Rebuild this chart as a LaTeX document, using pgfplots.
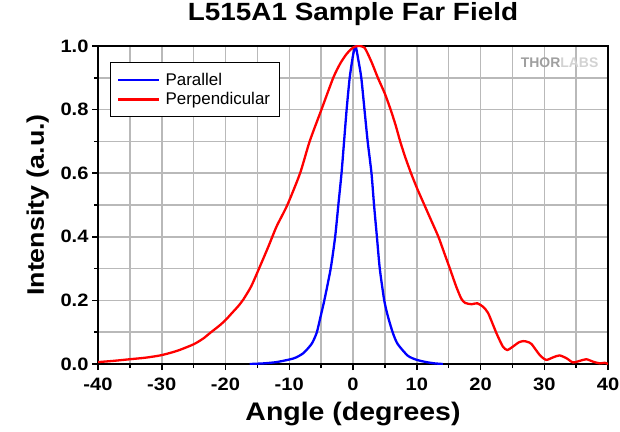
\documentclass[border=0pt]{standalone}
\usepackage{pgfplots}
\pgfplotsset{compat=1.18}
\usepackage{fontspec}
\setmainfont[FakeStretch=1.12]{Liberation Sans}
\newfontfamily\plainfont{Liberation Sans}

\definecolor{gridgray}{RGB}{185,185,185}

\begin{document}
\begin{tikzpicture}[x=1bp,y=1bp]
\useasboundingbox (0,0) rectangle (620,431);
\begin{axis}[
    at={(98bp,67bp)}, anchor=south west,
    width=510bp, height=318bp, scale only axis,
    xmin=-40, xmax=40, ymin=0, ymax=1,
    xtick={-40,-30,-20,-10,0,10,20,30,40},
    ytick={0,0.2,0.4,0.6,0.8,1.0},
    minor xtick={-35,-25,-15,-5,5,15,25,35},
    minor ytick={0.1,0.3,0.5,0.7,0.9},
    grid=both,
    major grid style={gridgray, line width=1.5bp},
    minor grid style={gridgray, line width=1.5bp},
    tick pos=left, tick align=outside,
    major tick length=6bp, minor tick length=4bp,
    tick style={black, line width=1.5bp},
    axis line style={black, line width=2bp},
    /pgf/number format/assume math mode=true,
    ticklabel style={font=\bfseries\fontsize{18}{20}\selectfont},
    xticklabel style={yshift=-4bp},
    yticklabel style={/pgf/number format/.cd, fixed, fixed zerofill, precision=1},
    title={L515A1 Sample Far Field},
    title style={font=\bfseries\fontsize{25}{28}\selectfont,
        at={(axis description cs:0.5,1.06)}, anchor=base},
    xlabel={Angle (degrees)},
    xlabel style={font=\bfseries\fontsize{25.5}{28}\selectfont,
        at={(axis description cs:0.5,-0.179)}, anchor=base},
    ylabel={Intensity (a.u.)},
    ylabel style={font=\bfseries\fontsize{24}{28}\selectfont,
        at={(axis description cs:-0.106,0.5)}, anchor=base},
    legend style={at={(axis description cs:0.0235,0.95)}, anchor=north west,
        draw=black, line width=0.8bp, fill=white,
        font=\plainfont\fontsize{17}{19}\selectfont,
        inner xsep=7bp, inner ysep=8.5bp, row sep=2bp, column sep=3bp},
    legend cell align=left,
    legend image code/.code={\draw[#1, line width=2.2bp] (0bp,0bp) -- (41bp,0bp);},
]
% Parallel
\addplot[color=blue, line width=2.3bp, smooth, tension=0.4] coordinates {
    (-16.2,0) (-14,0.002) (-12,0.006) (-10,0.014) (-9,0.02) (-7.8,0.034)
    (-6.5,0.063) (-5.7,0.098) (-5.1,0.148) (-4.5,0.2) (-3.5,0.3)
    (-2.8,0.4) (-2.3,0.5) (-1.8,0.6) (-1.4,0.7) (-1.0,0.8) (-0.52,0.9)
    (0,0.97) (0.4,1.0) (0.8,0.96) (1.3,0.9) (1.8,0.8) (2.3,0.7)
    (2.9,0.6) (3.3,0.5) (3.75,0.4) (4.2,0.3) (4.9,0.2) (5.5,0.148)
    (6.25,0.098) (7.0,0.063) (8.6,0.026) (10,0.013) (11.5,0.006)
    (12.8,0.002) (14.1,0)
};
\addlegendentry{Parallel}
% Perpendicular
\addplot[color=red, line width=2.3bp, smooth, tension=0.4] coordinates {
    (-40,0.006) (-37.5,0.01) (-35,0.015) (-32.5,0.02) (-30,0.028)
    (-27.5,0.042) (-25,0.062) (-23.5,0.08) (-22.4,0.098) (-21,0.12)
    (-20,0.138) (-19,0.16) (-18,0.182) (-17.2,0.203) (-16,0.243) (-15,0.288)
    (-13.3,0.368) (-12,0.432) (-10.3,0.5) (-8.3,0.6) (-6.8,0.7)
    (-4.95,0.8) (-3.1,0.9) (-2,0.945) (-1,0.975) (0,0.995) (0.8,1.0)
    (1.8,0.995) (2.9,0.95) (3.9,0.9) (5,0.85) (5.9,0.8) (6.7,0.75)
    (7.4,0.7) (8.2,0.65) (9.1,0.6) (10.1,0.55) (11.2,0.5) (12.3,0.45)
    (13.4,0.4) (14.3,0.35) (15.2,0.3) (16.2,0.243) (17.0,0.205)
    (17.6,0.192) (18.6,0.188) (19.5,0.191) (20.4,0.18) (21.2,0.16)
    (22.5,0.097) (23.5,0.055) (24.2,0.044) (25.1,0.055) (26.0,0.068)
    (26.7,0.072) (27.3,0.07) (28.0,0.063) (29.3,0.028) (30.3,0.013)
    (31.4,0.021) (32.4,0.027) (33.5,0.018) (34.5,0.005) (35.6,0.010)
    (36.6,0.015) (37.7,0.007) (38.7,0.002) (39.5,0.004) (40,0.0)
};
\addlegendentry{Perpendicular}
\node[anchor=base east, font=\plainfont\bfseries\fontsize{14}{14}\selectfont, text=gray!75]
    at (axis description cs:0.988,0.931) {THOR\textcolor{gray!35}{LABS}};
\end{axis}
\end{tikzpicture}
\end{document}
